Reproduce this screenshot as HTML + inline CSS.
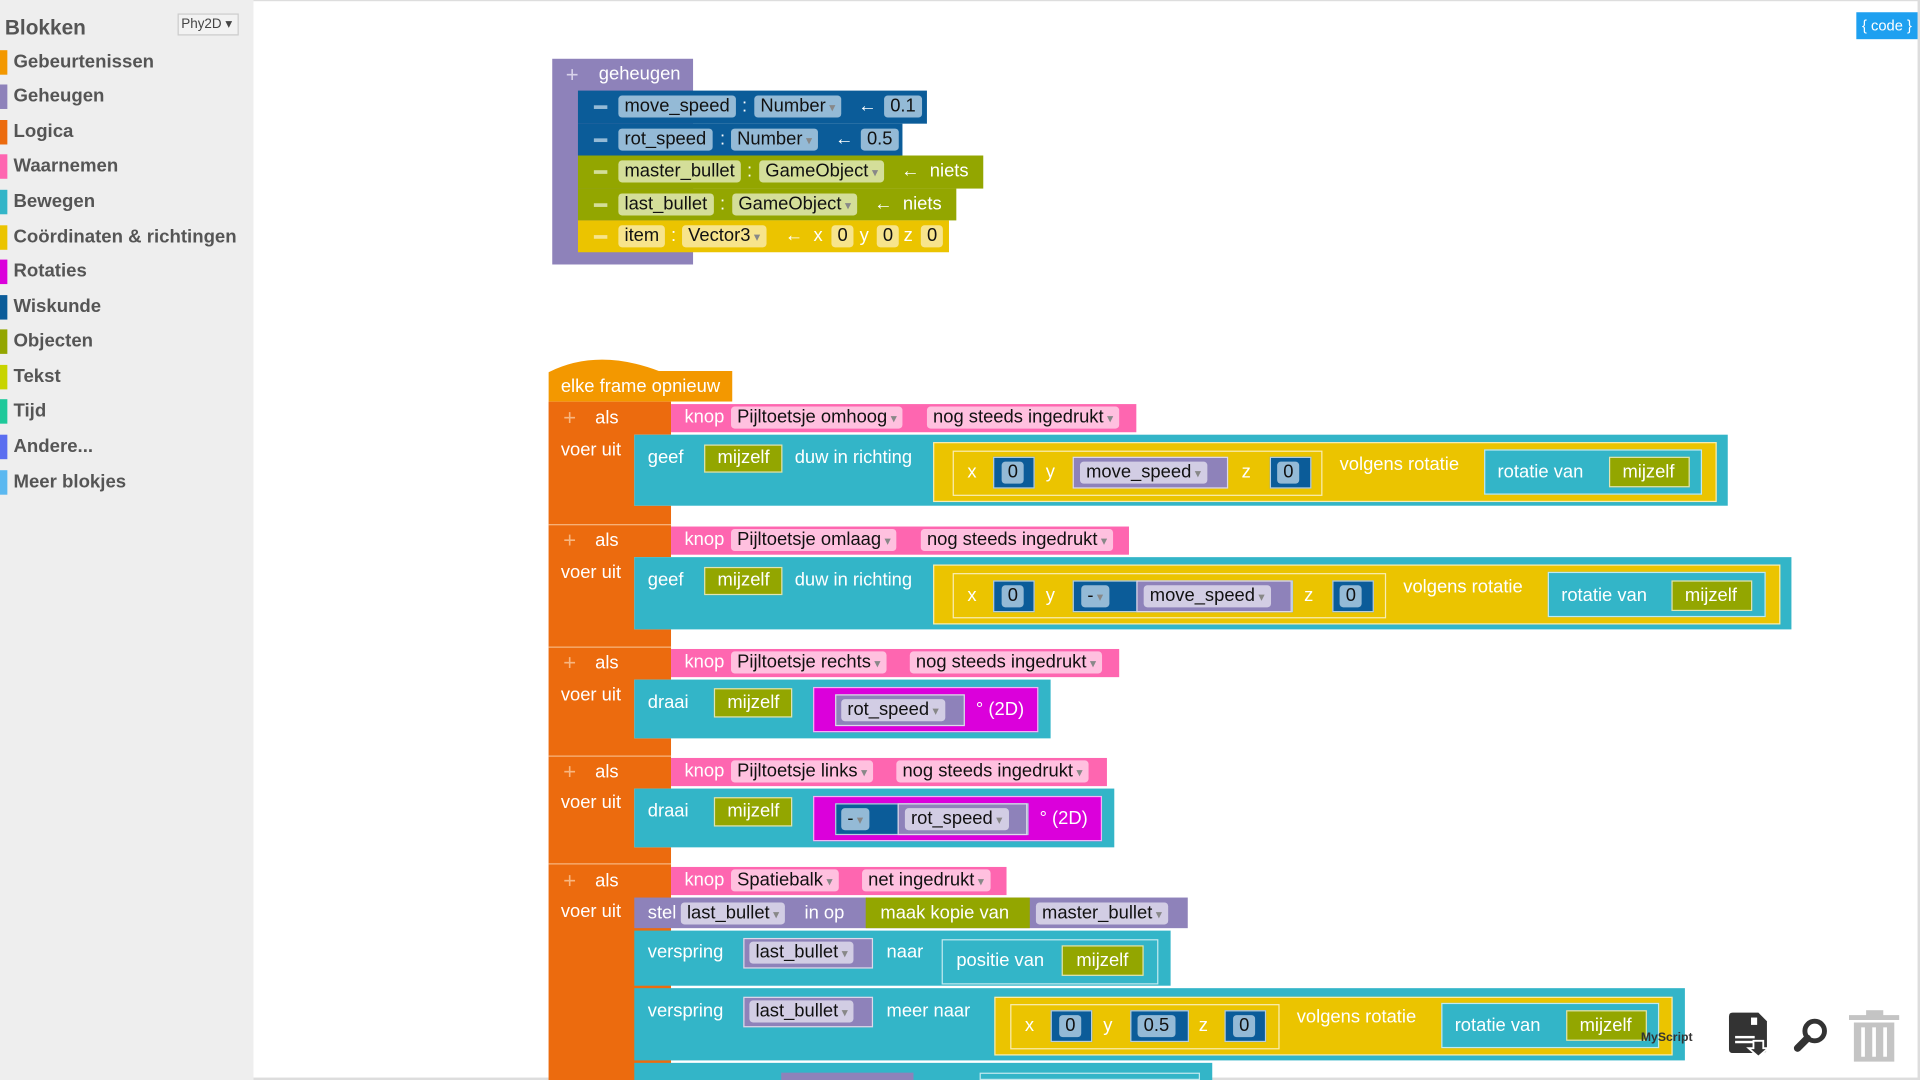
<!DOCTYPE html>
<html><head><meta charset="utf-8"><style>
html,body{margin:0;padding:0;width:1920px;height:1080px;overflow:hidden;background:#fff}
#w{position:absolute;left:0;top:0;width:1568px;height:882px;transform:scale(1.22449);transform-origin:0 0;font-family:"Liberation Sans",sans-serif}
.a{position:absolute;box-sizing:border-box}
.l{position:absolute;color:#fff;font-size:15px;line-height:18px;white-space:nowrap}
.f{position:absolute;box-sizing:border-box;height:18px;line-height:18px;font-size:15px;color:#111;padding:0 5px;border-radius:3px;white-space:nowrap}
.dd:after{content:" ▾";font-size:10px;color:#888}
.o{border:1px solid rgba(255,255,255,.7)}
.cat{position:absolute;left:0;height:20px;font-size:15.2px;font-weight:bold;color:#555;line-height:20px;padding-left:11px}
.cat i{position:absolute;left:0;top:0;width:6px;height:20px}
.m{position:absolute;width:11px;height:3px}
.bl{background:#0b5c99}.ol{background:#93a600}.ye{background:#ebc400}.pu{background:#8e82ba}.te{background:#33b5c8}.pk{background:#fe66b0}.or{background:#ec6b0e}.mg{background:#db00db}
.fb{background:#94bad6}.fo{background:#d4de99}.fy{background:#f7e48c}.fp{background:#d2cde4}.fk{background:#ffc0df}
</style></head><body><div id="w">
<div class="a" style="left:0;top:0;width:207px;height:882px;background:#eee"></div>
<div class="a" style="left:4px;top:13px;font-size:17px;font-weight:bold;color:#555">Blokken</div>
<div class="a" style="left:145px;top:11px;width:50px;height:18px;border:1px solid #ccc;background:#f2f2f2;font-size:11px;color:#444;line-height:16px;padding-left:2px">Phy2D ▾</div>
<div class="cat" style="top:41px"><i style="background:#f39800"></i>Gebeurtenissen</div>
<div class="cat" style="top:69px"><i style="background:#8e82ba"></i>Geheugen</div>
<div class="cat" style="top:98px"><i style="background:#ec6b0e"></i>Logica</div>
<div class="cat" style="top:126px"><i style="background:#fe66b0"></i>Waarnemen</div>
<div class="cat" style="top:155px"><i style="background:#33b5c8"></i>Bewegen</div>
<div class="cat" style="top:184px"><i style="background:#ebc400"></i>Coördinaten &amp; richtingen</div>
<div class="cat" style="top:212px"><i style="background:#db00db"></i>Rotaties</div>
<div class="cat" style="top:241px"><i style="background:#0b5c99"></i>Wiskunde</div>
<div class="cat" style="top:269px"><i style="background:#93a600"></i>Objecten</div>
<div class="cat" style="top:298px"><i style="background:#c8d400"></i>Tekst</div>
<div class="cat" style="top:326px"><i style="background:#1ec99a"></i>Tijd</div>
<div class="cat" style="top:355px"><i style="background:#5b6ef0"></i>Andere...</div>
<div class="cat" style="top:384px"><i style="background:#5bb8f0"></i>Meer blokjes</div>
<div class="a" style="left:207px;top:0;width:1361px;height:1px;background:#ddd"></div>
<div class="a" style="left:1566px;top:0;width:2px;height:882px;background:#ddd"></div>
<div class="a" style="left:207px;top:880px;width:1361px;height:2px;background:#ddd"></div>
<div class="a" style="left:1516px;top:10px;width:50px;height:22px;background:#1ea0f0;color:#fff;font-size:12px;line-height:22px;text-align:center">{ code }</div>

<div class="a pu" style="left:451px;top:48px;width:115px;height:168px"></div>
<div class="l" style="left:462px;top:52px;color:#d8d2ea;font-size:18px">+</div>
<div class="l" style="left:489px;top:52px">geheugen</div>
<div class="a bl" style="left:472px;top:74px;width:285px;height:27px"></div>
<div class="m fb" style="left:485px;top:86px"></div>
<div class="f fb" style="left:505px;top:78px">move_speed</div><div class="l" style="left:606px;top:78px">:</div>
<div class="f fb dd" style="left:616px;top:78px">Number</div><div class="l" style="left:701px;top:78px">←</div>
<div class="f fb" style="left:722px;top:78px">0.1</div>
<div class="a bl" style="left:472px;top:101px;width:265px;height:26px"></div>
<div class="m fb" style="left:485px;top:113px"></div>
<div class="f fb" style="left:505px;top:105px">rot_speed</div><div class="l" style="left:588px;top:105px">:</div>
<div class="f fb dd" style="left:597px;top:105px">Number</div><div class="l" style="left:682px;top:105px">←</div>
<div class="f fb" style="left:703px;top:105px">0.5</div>
<div class="a ol" style="left:472px;top:127px;width:331px;height:27px"></div>
<div class="m fo" style="left:485px;top:139px"></div>
<div class="f fo" style="left:505px;top:131px">master_bullet</div><div class="l" style="left:610px;top:131px">:</div>
<div class="f fo dd" style="left:620px;top:131px">GameObject</div><div class="l" style="left:736px;top:131px">← &nbsp;niets</div>
<div class="a ol" style="left:472px;top:154px;width:309px;height:26px"></div>
<div class="m fo" style="left:485px;top:166px"></div>
<div class="f fo" style="left:505px;top:158px">last_bullet</div><div class="l" style="left:588px;top:158px">:</div>
<div class="f fo dd" style="left:598px;top:158px">GameObject</div><div class="l" style="left:714px;top:158px">← &nbsp;niets</div>
<div class="a ye" style="left:472px;top:180px;width:303px;height:26px"></div>
<div class="m fy" style="left:485px;top:192px"></div>
<div class="f fy" style="left:505px;top:184px">item</div><div class="l" style="left:548px;top:184px">:</div>
<div class="f fy dd" style="left:557px;top:184px">Vector3</div><div class="l" style="left:641px;top:184px">← &nbsp;x</div>
<div class="f fy" style="left:679px;top:184px">0</div><div class="l" style="left:702px;top:184px">y</div>
<div class="f fy" style="left:716px;top:184px">0</div><div class="l" style="left:738px;top:184px">z</div>
<div class="f fy" style="left:752px;top:184px">0</div>

<svg class="a" style="left:448px;top:290px" width="151" height="38"><path d="M0 14 Q40 -6 90 13 L150 13 L150 38 L0 38 Z" fill="#f39800"/></svg>
<div class="l" style="left:458px;top:307px">elke frame opnieuw</div>
<div class="a or" style="left:448px;top:328px;width:100px;height:554px"></div>
<div class="a" style="left:448px;top:428px;width:100px;height:1px;background:#f7b680"></div>
<div class="a" style="left:448px;top:528px;width:100px;height:1px;background:#f7b680"></div>
<div class="a" style="left:448px;top:617px;width:100px;height:1px;background:#f7b680"></div>
<div class="a" style="left:448px;top:705px;width:100px;height:1px;background:#f7b680"></div>
<div class="a" style="left:518px;top:355px;width:30px;height:58px;background:#fff"></div>
<div class="a" style="left:518px;top:455px;width:30px;height:59px;background:#fff"></div>
<div class="a" style="left:518px;top:555px;width:30px;height:48px;background:#fff"></div>
<div class="a" style="left:518px;top:644px;width:30px;height:48px;background:#fff"></div>

<div class="l" style="left:460px;top:332px;color:#f7b680;font-size:18px">+</div><div class="l" style="left:486px;top:333px">als</div><div class="l" style="left:458px;top:359px">voer uit</div>
<div class="l" style="left:460px;top:432px;color:#f7b680;font-size:18px">+</div><div class="l" style="left:486px;top:433px">als</div><div class="l" style="left:458px;top:459px">voer uit</div>
<div class="l" style="left:460px;top:532px;color:#f7b680;font-size:18px">+</div><div class="l" style="left:486px;top:533px">als</div><div class="l" style="left:458px;top:559px">voer uit</div>
<div class="l" style="left:460px;top:621px;color:#f7b680;font-size:18px">+</div><div class="l" style="left:486px;top:622px">als</div><div class="l" style="left:458px;top:647px">voer uit</div>
<div class="l" style="left:460px;top:710px;color:#f7b680;font-size:18px">+</div><div class="l" style="left:486px;top:711px">als</div><div class="l" style="left:458px;top:736px">voer uit</div>

<div class="a pk" style="left:548px;top:330px;width:380px;height:23px"></div>
<div class="l" style="left:559px;top:332px">knop</div><div class="f fk dd" style="left:597px;top:332px">Pijltoetsje omhoog</div><div class="f fk dd" style="left:757px;top:332px">nog steeds ingedrukt</div>
<div class="a te" style="left:518px;top:355px;width:893px;height:58px"></div>
<div class="l" style="left:529px;top:365px">geef</div><div class="a ol o" style="left:575px;top:363px;width:64px;height:23px"></div><div class="l" style="left:586px;top:365px">mijzelf</div>
<div class="l" style="left:649px;top:365px">duw in richting</div>
<div class="a ye o" style="left:762px;top:361px;width:640px;height:49px"></div>
<div class="a ye o" style="left:778px;top:368px;width:302px;height:37px"></div>
<div class="l" style="left:790px;top:377px">x</div><div class="a bl o" style="left:811px;top:373px;width:34px;height:26px"></div><div class="f fb" style="left:818px;top:377px">0</div>
<div class="l" style="left:854px;top:377px">y</div><div class="a pu o" style="left:876px;top:373px;width:127px;height:26px"></div><div class="f fp dd" style="left:882px;top:377px">move_speed</div>
<div class="l" style="left:1014px;top:377px">z</div><div class="a bl o" style="left:1037px;top:373px;width:34px;height:26px"></div><div class="f fb" style="left:1043px;top:377px">0</div>
<div class="l" style="left:1094px;top:371px">volgens rotatie</div>
<div class="a te o" style="left:1212px;top:367px;width:178px;height:37px"></div><div class="l" style="left:1223px;top:377px">rotatie van</div>
<div class="a ol o" style="left:1314px;top:373px;width:66px;height:25px"></div><div class="l" style="left:1325px;top:377px">mijzelf</div>

<div class="a pk" style="left:548px;top:430px;width:374px;height:23px"></div>
<div class="l" style="left:559px;top:432px">knop</div><div class="f fk dd" style="left:597px;top:432px">Pijltoetsje omlaag</div><div class="f fk dd" style="left:752px;top:432px">nog steeds ingedrukt</div>
<div class="a te" style="left:518px;top:455px;width:945px;height:59px"></div>
<div class="l" style="left:529px;top:465px">geef</div><div class="a ol o" style="left:575px;top:463px;width:64px;height:23px"></div><div class="l" style="left:586px;top:465px">mijzelf</div>
<div class="l" style="left:649px;top:465px">duw in richting</div>
<div class="a ye o" style="left:762px;top:461px;width:692px;height:49px"></div>
<div class="a ye o" style="left:778px;top:468px;width:354px;height:37px"></div>
<div class="l" style="left:790px;top:478px">x</div><div class="a bl o" style="left:811px;top:474px;width:34px;height:26px"></div><div class="f fb" style="left:818px;top:478px">0</div>
<div class="l" style="left:854px;top:478px">y</div><div class="a bl o" style="left:876px;top:474px;width:180px;height:26px"></div><div class="f fb dd" style="left:883px;top:478px">-</div>
<div class="a pu o" style="left:928px;top:474px;width:127px;height:26px"></div><div class="f fp dd" style="left:934px;top:478px">move_speed</div>
<div class="l" style="left:1065px;top:478px">z</div><div class="a bl o" style="left:1088px;top:474px;width:34px;height:26px"></div><div class="f fb" style="left:1094px;top:478px">0</div>
<div class="l" style="left:1146px;top:471px">volgens rotatie</div>
<div class="a te o" style="left:1264px;top:467px;width:178px;height:37px"></div><div class="l" style="left:1275px;top:478px">rotatie van</div>
<div class="a ol o" style="left:1365px;top:474px;width:66px;height:25px"></div><div class="l" style="left:1376px;top:478px">mijzelf</div>

<div class="a pk" style="left:548px;top:530px;width:366px;height:23px"></div>
<div class="l" style="left:559px;top:532px">knop</div><div class="f fk dd" style="left:597px;top:532px">Pijltoetsje rechts</div><div class="f fk dd" style="left:743px;top:532px">nog steeds ingedrukt</div>
<div class="a te" style="left:518px;top:555px;width:340px;height:48px"></div>
<div class="l" style="left:529px;top:565px">draai</div><div class="a ol o" style="left:583px;top:562px;width:64px;height:24px"></div><div class="l" style="left:594px;top:565px">mijzelf</div>
<div class="a mg o" style="left:664px;top:561px;width:184px;height:37px"></div>
<div class="a pu o" style="left:682px;top:567px;width:106px;height:26px"></div><div class="f fp dd" style="left:687px;top:571px">rot_speed</div>
<div class="l" style="left:797px;top:571px">° (2D)</div>

<div class="a pk" style="left:548px;top:619px;width:356px;height:23px"></div>
<div class="l" style="left:559px;top:621px">knop</div><div class="f fk dd" style="left:597px;top:621px">Pijltoetsje links</div><div class="f fk dd" style="left:732px;top:621px">nog steeds ingedrukt</div>
<div class="a te" style="left:518px;top:644px;width:392px;height:48px"></div>
<div class="l" style="left:529px;top:654px">draai</div><div class="a ol o" style="left:583px;top:651px;width:64px;height:24px"></div><div class="l" style="left:594px;top:654px">mijzelf</div>
<div class="a mg o" style="left:664px;top:650px;width:236px;height:37px"></div>
<div class="a bl o" style="left:682px;top:656px;width:158px;height:26px"></div><div class="f fb dd" style="left:687px;top:660px">-</div>
<div class="a pu o" style="left:733px;top:656px;width:106px;height:26px"></div><div class="f fp dd" style="left:739px;top:660px">rot_speed</div>
<div class="l" style="left:849px;top:660px">° (2D)</div>

<div class="a pk" style="left:548px;top:708px;width:274px;height:23px"></div>
<div class="l" style="left:559px;top:710px">knop</div><div class="f fk dd" style="left:597px;top:710px">Spatiebalk</div><div class="f fk dd" style="left:704px;top:710px">net ingedrukt</div>
<div class="a pu" style="left:518px;top:733px;width:452px;height:25px"></div>
<div class="l" style="left:529px;top:737px">stel</div><div class="f fp dd" style="left:556px;top:737px">last_bullet</div><div class="l" style="left:657px;top:737px">in op</div>
<div class="a ol" style="left:707px;top:733px;width:134px;height:25px"></div><div class="l" style="left:719px;top:737px">maak kopie van</div>
<div class="f fp dd" style="left:846px;top:737px">master_bullet</div>
<div class="a te" style="left:518px;top:760px;width:438px;height:45px"></div>
<div class="l" style="left:529px;top:769px">verspring</div><div class="a pu o" style="left:607px;top:766px;width:106px;height:25px"></div><div class="f fp dd" style="left:612px;top:769px">last_bullet</div>
<div class="l" style="left:724px;top:769px">naar</div>
<div class="a te o" style="left:769px;top:767px;width:177px;height:37px"></div><div class="l" style="left:781px;top:776px">positie van</div>
<div class="a ol o" style="left:867px;top:772px;width:67px;height:25px"></div><div class="l" style="left:879px;top:776px">mijzelf</div>
<div class="a te" style="left:518px;top:807px;width:858px;height:59px"></div>
<div class="l" style="left:529px;top:817px">verspring</div><div class="a pu o" style="left:607px;top:814px;width:106px;height:25px"></div><div class="f fp dd" style="left:612px;top:817px">last_bullet</div>
<div class="l" style="left:724px;top:817px">meer naar</div>
<div class="a ye o" style="left:812px;top:814px;width:554px;height:48px"></div>
<div class="a ye o" style="left:825px;top:820px;width:220px;height:37px"></div>
<div class="l" style="left:837px;top:829px">x</div><div class="a bl o" style="left:858px;top:825px;width:34px;height:26px"></div><div class="f fb" style="left:865px;top:829px">0</div>
<div class="l" style="left:901px;top:829px">y</div><div class="a bl o" style="left:923px;top:825px;width:48px;height:26px"></div><div class="f fb" style="left:929px;top:829px">0.5</div>
<div class="l" style="left:979px;top:829px">z</div><div class="a bl o" style="left:1000px;top:825px;width:34px;height:26px"></div><div class="f fb" style="left:1007px;top:829px">0</div>
<div class="l" style="left:1059px;top:822px">volgens rotatie</div>
<div class="a te o" style="left:1177px;top:819px;width:178px;height:37px"></div><div class="l" style="left:1188px;top:829px">rotatie van</div>
<div class="a ol o" style="left:1279px;top:825px;width:66px;height:25px"></div><div class="l" style="left:1290px;top:829px">mijzelf</div>
<div class="a te" style="left:518px;top:868px;width:472px;height:14px"></div>
<div class="a pu" style="left:638px;top:876px;width:108px;height:6px"></div>
<div class="a te o" style="left:800px;top:876px;width:180px;height:6px"></div>

<div class="a" style="left:1340px;top:842px;font-size:10px;color:#333;font-weight:bold">MyScript</div>
<svg class="a" style="left:1410px;top:826px" width="36" height="38"><path d="M2 4 Q2 1 5 1 L26 1 L33 8 L33 30 Q33 34 29 34 L5 34 Q2 34 2 31 Z" fill="#333"/><rect x="20" y="5" width="5" height="6" fill="#fff"/><rect x="7" y="20" width="16" height="2" fill="#fff"/><rect x="7" y="24" width="16" height="2" fill="#fff"/><path d="M22 24 L30 24 L30 30 L34 30 L26 37 L18 30 L22 30Z" fill="#333" stroke="#fff" stroke-width="1.5"/></svg>
<svg class="a" style="left:1464px;top:830px" width="30" height="30"><circle cx="18" cy="12" r="8" fill="none" stroke="#333" stroke-width="4"/><path d="M12 18 L4 26" stroke="#333" stroke-width="6" stroke-linecap="round"/></svg>
<svg class="a" style="left:1510px;top:824px" width="42" height="44"><rect x="0" y="5" width="41" height="4" fill="#c4c4c4"/><rect x="14" y="1" width="14" height="5" fill="#c4c4c4"/><path d="M4 11 L37 11 L37 43 L4 43 Z" fill="#c4c4c4"/><rect x="10" y="15" width="3" height="24" fill="#fff"/><rect x="19" y="15" width="3" height="24" fill="#fff"/><rect x="28" y="15" width="3" height="24" fill="#fff"/></svg>
</div></body></html>
